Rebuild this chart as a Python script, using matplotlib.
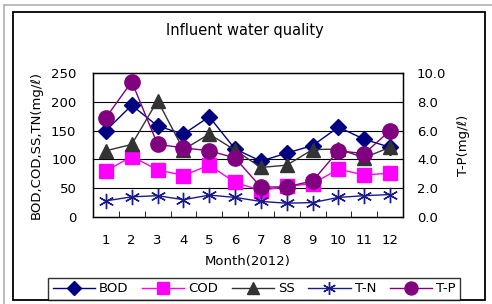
import numpy as np
import matplotlib.pyplot as plt
from matplotlib.patches import Rectangle
from matplotlib.lines import Line2D

plt.rcParams['font.family'] = ['DejaVu Sans']

months = [1, 2, 3, 4, 5, 6, 7, 8, 9, 10, 11, 12]
bod = [150, 194, 158, 144, 174, 118, 97, 111, 124, 156, 135, 121]
cod = [80, 105, 82, 72, 90, 60, 46, 53, 58, 83, 73, 76]
ss = [115, 126, 202, 117, 144, 116, 86, 90, 117, 118, 103, 121]
tn = [28, 35, 37, 30, 38, 34, 27, 24, 25, 34, 37, 39]
tp = [6.9, 9.4, 5.05, 4.8, 4.6, 4.1, 2.07, 2.1, 2.5, 4.6, 4.4, 6.0]

W, H = 492, 304
fig = plt.figure(figsize=(W / 100, H / 100), dpi=100)

# outer frame
fig.add_artist(Line2D([4 / W, 4 / W], [0, 1 - 5 / H], color='#b0b0b0', lw=1.2))
fig.add_artist(Line2D([4 / W, 1], [1 - 5 / H, 1 - 5 / H], color='#b0b0b0', lw=1.2))
fig.add_artist(Rectangle((13 / W, 1 - 300 / H), 472 / W, 288 / H, fill=False,
                         edgecolor='black', lw=1.3, transform=fig.transFigure))

ax = fig.add_axes([93 / W, 1 - 217 / H, 310 / W, 144 / H])
ax.set_xlim(0.5, 12.5)
ax.set_ylim(0, 250)
ax.set_yticks([0, 50, 100, 150, 200, 250])
for g in [50, 100, 150, 200]:
    ax.axhline(g, color='black', lw=0.8, zorder=0)
ax.set_xticks(months)
ax.set_xticks(np.arange(1.5, 12.5, 1), minor=True)
ax.tick_params(axis='x', which='major', length=0, pad=12, labelsize=9.5)
ax.tick_params(axis='x', which='minor', direction='in', length=4)
ax.tick_params(axis='y', length=0, pad=12, labelsize=9.5)
for s in ax.spines.values():
    s.set_linewidth(1.0)

ax.plot(months, bod, color='#000080', marker='D', ms=8, lw=1, label='BOD')
ax.plot(months, cod, color='#ff00ff', marker='s', ms=10, lw=1, label='COD')
ax.plot(months, ss, color='#333333', marker='^', ms=10, lw=1, label='SS')
ax.plot(months, tn, color='#1a1a8c', marker=(6, 2, 0), ms=11, mew=1, lw=1, label='T-N')

ax2 = ax.twinx()
ax2.set_ylim(0, 10)
ax2.set_yticks([0, 2, 4, 6, 8, 10])
ax2.set_yticklabels(['0.0', '2.0', '4.0', '6.0', '8.0', '10.0'])
ax2.tick_params(axis='y', direction='in', length=3, pad=10, labelsize=9.5)
ax2.plot(months, tp, color='#800080', marker='o', ms=11, lw=1, label='T-P')

ax.set_ylabel('BOD,COD,SS,TN(mg/ℓ)', fontsize=9.5, labelpad=6)
ax2.set_ylabel('T-P(mg/ℓ)', fontsize=9.5, labelpad=8)
ax.set_xlabel('Month(2012)', fontsize=9.5, labelpad=6)
fig.text(245 / W, 1 - 31 / H, 'Influent water quality', ha='center', va='center', fontsize=10.5)

h1, l1 = ax.get_legend_handles_labels()
h2, l2 = ax2.get_legend_handles_labels()
leg = fig.legend(h1 + h2, l1 + l2, loc='lower left', ncol=5,
                 bbox_to_anchor=(48 / W, 1 - 300 / H, 412 / W, 27 / H), mode='expand',
                 fontsize=9.5, frameon=True, fancybox=False, edgecolor='black',
                 handlelength=3.2, handletextpad=0.3, columnspacing=1.0,
                 borderaxespad=0, borderpad=0.35, markerscale=0.85)
leg.get_frame().set_linewidth(1.0)

fig.savefig('out.png', dpi=100)
